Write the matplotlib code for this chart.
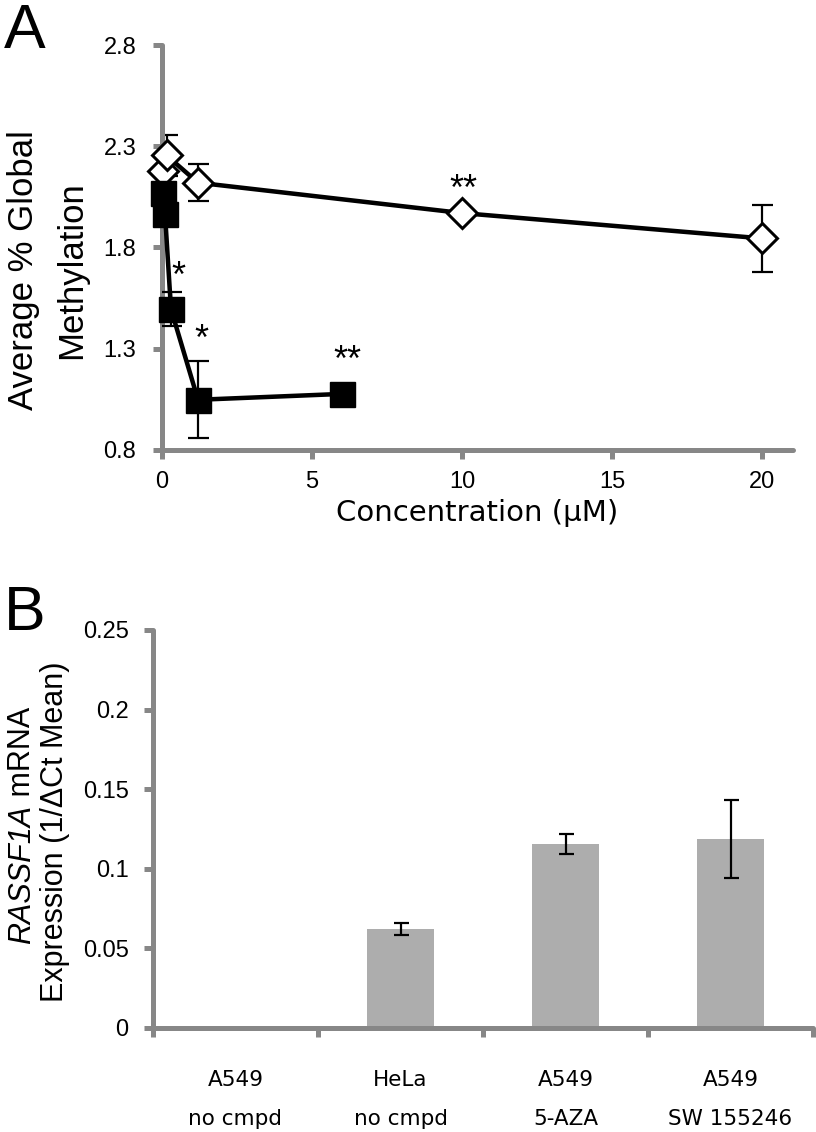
import matplotlib
matplotlib.use('Agg')
import matplotlib.pyplot as plt

plt.rcParams['font.family'] = ['Liberation Sans', 'DejaVu Sans']

# ---- Panel A data ----
ctrl_x = [0.02, 0.15, 1.2, 10, 20]
ctrl_y = [2.18, 2.255, 2.12, 1.97, 1.845]
ctrl_err = [0.0, 0.10, 0.09, 0.0, 0.165]

cmpd_x = [0.02, 0.1, 0.3, 1.2, 6]
cmpd_y = [2.07, 1.965, 1.495, 1.048, 1.077]
cmpd_err = [0.0, 0.04, 0.085, 0.19, 0.0]

sig_x = [0.53, 1.3, 6.17, 10.03]
sig_y = [1.65, 1.34, 1.235, 2.08]
sig_txt = ['*', '*', '**', '**']

a_xticks = [0, 5, 10, 15, 20]
a_yticks = [0.8, 1.3, 1.8, 2.3, 2.8]

# ---- Panel B data ----
categories = ['A549\nno cmpd', 'HeLa\nno cmpd', 'A549\n5-AZA', 'A549\nSW 155246']
expr = [0.0, 0.0622, 0.1156, 0.1187]
expr_err = [0.0, 0.0035, 0.0063, 0.0245]
b_yticks = [0, 0.05, 0.1, 0.15, 0.2, 0.25]
b_yticklabels = ['0', '0.05', '0.1', '0.15', '0.2', '0.25']

W, H = 816, 1132
fig = plt.figure(figsize=(W / 100, H / 100), dpi=100)
GRAY = '#878787'
PX = 0.72  # points per pixel
WIDE = ['DejaVu Sans']

def style_axes(ax):
    for s in ['top', 'right']:
        ax.spines[s].set_visible(False)
    for s in ['left', 'bottom']:
        ax.spines[s].set_color(GRAY)
        ax.spines[s].set_linewidth(5 * PX)
        ax.spines[s].set_capstyle('round')

# ---------------- Panel A ----------------
axA = fig.add_axes([162 / W, 1 - 450 / H, (793 - 162) / W, (450 - 45) / H])
style_axes(axA)
axA.set_xlim(0, 21.03)
axA.set_ylim(0.8, 2.8)
axA.set_xticks(a_xticks)
axA.set_yticks(a_yticks)
axA.set_yticklabels([f'{v:.1f}' for v in a_yticks])
axA.tick_params(axis='both', direction='out', length=9 * PX, width=5 * PX,
                color=GRAY, labelsize=17, labelcolor='black')
axA.tick_params(axis='y', pad=12)
axA.tick_params(axis='x', pad=9)

axA.errorbar(ctrl_x, ctrl_y, yerr=ctrl_err, fmt='none', ecolor='black',
             elinewidth=2.2 * PX, capsize=10.5 * PX, capthick=2.2 * PX, zorder=2)
axA.plot(ctrl_x, ctrl_y, color='black', lw=4.5 * PX, marker='D', ms=15,
         mfc='white', mec='black', mew=3 * PX, zorder=3, clip_on=False)
axA.errorbar(cmpd_x, cmpd_y, yerr=cmpd_err, fmt='none', ecolor='black',
             elinewidth=2.2 * PX, capsize=10.5 * PX, capthick=2.2 * PX, zorder=4)
axA.plot(cmpd_x, cmpd_y, color='black', lw=4.5 * PX, marker='s', ms=18,
         mfc='black', mec='black', zorder=5, clip_on=False)

for x, y, t in zip(sig_x, sig_y, sig_txt):
    axA.text(x, y, t, ha='center', va='center', fontsize=26, color='black')

axA.set_xlabel('Concentration (µM)', fontsize=21, labelpad=4, family=WIDE)
fig.text(47.5 / W, 1 - 270 / H, 'Average % Global\nMethylation', rotation=90,
         ha='center', va='center', fontsize=25, linespacing=1.6)
fig.text(4 / W, 1 - 48 / H, 'A', fontsize=45, ha='left', va='baseline')

# ---------------- Panel B ----------------
axB = fig.add_axes([153 / W, 1 - 1028 / H, 660 / W, 398 / H])
style_axes(axB)
pos = list(range(len(categories)))
axB.bar(pos, expr, width=0.405, color='#adadad', zorder=2)
mask = [i for i, e in enumerate(expr_err) if e > 0]
axB.errorbar([pos[i] for i in mask], [expr[i] for i in mask],
             yerr=[expr_err[i] for i in mask], fmt='none', ecolor='black',
             elinewidth=2.2 * PX, capsize=7.5 * PX, capthick=2.2 * PX, zorder=3)
axB.set_xlim(-0.5, len(categories) - 0.5)
axB.set_ylim(0, 0.25)
axB.set_yticks(b_yticks)
axB.set_yticklabels(b_yticklabels)
axB.set_xticks([p - 0.5 for p in pos] + [len(categories) - 0.5])
axB.set_xticklabels([])
axB.set_xticks(pos, minor=True)
axB.set_xticklabels(categories, minor=True, fontsize=15.5, linespacing=2.2,
                    family=WIDE)
axB.tick_params(axis='both', which='major', direction='out', length=9 * PX,
                width=5 * PX, color=GRAY, labelcolor='black')
axB.tick_params(axis='y', labelsize=17, pad=11)
axB.tick_params(axis='x', which='minor', length=0, pad=30)

# y label of panel B: italic gene name + regular text
line1_x = 22 / W
line1_bottom = 1 - 944 / H
t_it = fig.text(line1_x, line1_bottom, 'RASSF1A', rotation=90, ha='center',
                va='bottom', fontsize=22, style='italic')
fig.canvas.draw()
bb = t_it.get_window_extent(fig.canvas.get_renderer())
top_frac = bb.y1 / fig.bbox.height
fig.text(line1_x, top_frac, ' mRNA', rotation=90, ha='center', va='bottom',
         fontsize=22)
fig.text(55 / W, 1 - 832 / H, 'Expression (1/ΔCt Mean)', rotation=90,
         ha='center', va='center', fontsize=22)
fig.text(4 / W, 1 - 630 / H, 'B', fontsize=45, ha='left', va='baseline')

fig.savefig('out.png', dpi=100)
